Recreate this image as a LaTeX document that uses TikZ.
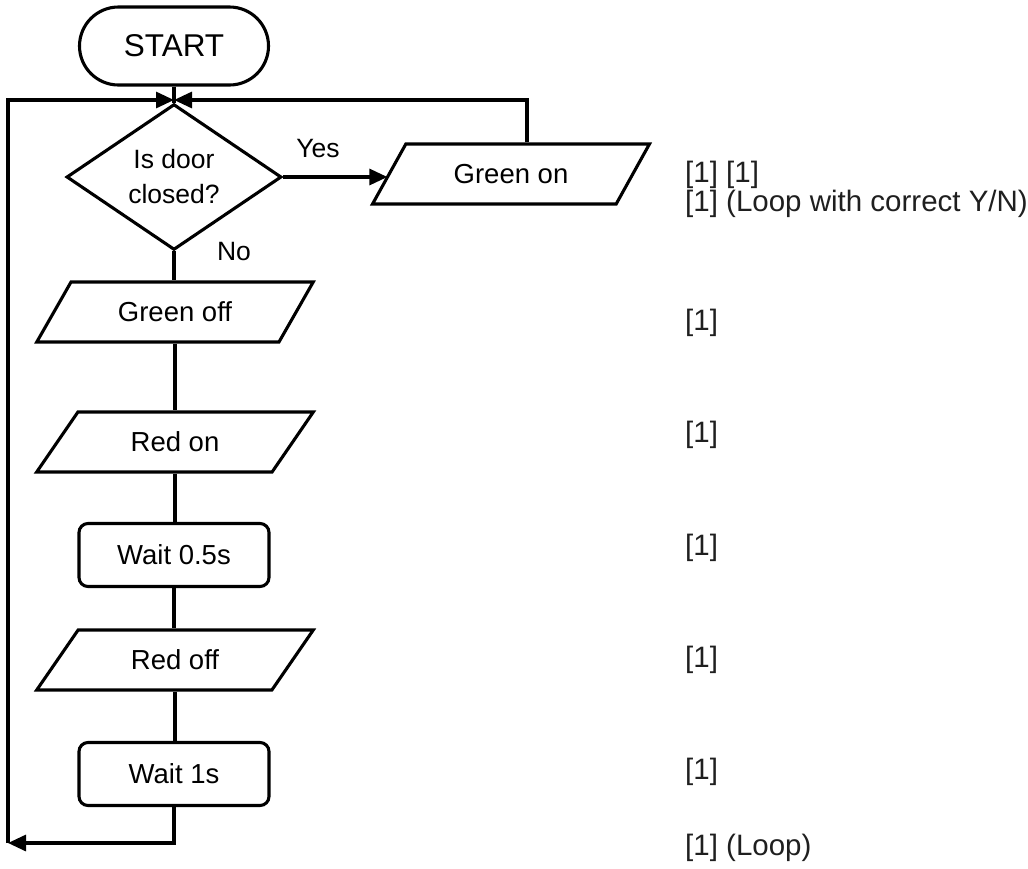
\documentclass[tikz,border=0pt]{standalone}
\usepackage{fontspec}
\setmainfont{Liberation Sans}
\usetikzlibrary{shapes.geometric,arrows.meta}
\begin{document}
\begin{tikzpicture}[x=1pt,y=-1pt,
  ln/.style={line width=3.1pt},
  arr/.style={ln,-{Triangle[length=18pt,width=16pt]}},
  base/.style={draw,ln,inner sep=0pt,align=center,font=\fontsize{27.5}{35}\selectfont},
  io/.style={base,trapezium,trapezium left angle=47,trapezium right angle=133,trapezium stretches=true,minimum width=277pt,minimum height=60pt},
  proc/.style={base,rectangle,rounded corners=9pt,minimum width=190pt,minimum height=63pt},
  term/.style={base,rectangle,rounded corners=39pt,minimum width=189pt,minimum height=78pt,font=\fontsize{31.5}{36}\selectfont},
  dec/.style={base,diamond,minimum width=215pt,minimum height=130pt,font=\fontsize{26.5}{35}\selectfont},
  lbl/.style={inner sep=0pt,font=\fontsize{26.5}{30}\selectfont},
  mk/.style={inner sep=0pt,anchor=west,align=left,text=black!88,font=\fontsize{29.5}{29}\selectfont}
]
\useasboundingbox (0,0) rectangle (1028,868);
\node[term] (start) at (174,46) {START};
\coordinate (J) at (174,100);
\node[dec] (dec) at (174,177) {Is door\\closed?};
\node[io] (gon) at (511,174) {Green on};
\node[io] (goff) at (175,312) {Green off};
\node[io] (ron) at (175,442) {Red on};
\node[proc] (w05) at (174,555) {Wait 0.5s};
\node[io] (roff) at (175,660) {Red off};
\node[proc] (w1) at (174,774) {Wait 1s};
\coordinate (BL) at (8,843);

\draw[ln] (start.south) -- (dec.north);
\draw[ln] (dec.south) -- (dec.south |- goff.north);
\draw[ln] (goff.south) -- (goff.south |- ron.north);
\draw[ln] (ron.south) -- (ron.south |- w05.north);
\draw[ln] (w05.south) -- (w05.south |- roff.north);
\draw[ln] (roff.south) -- (roff.south |- w1.north);
\draw[arr] (dec.east) -- (dec.east -| gon.west);
\draw[arr] ([xshift=16pt]gon.north) |- (J);
\draw[arr] (w1.south) |- (BL);
\draw[arr] (BL) |- (J);

\node[lbl] (yes) at (318,149) {Yes};
\node[lbl] (no) at (234,252) {No};

\node[mk] (m1) at (685,175) {[1] [1]};
\node[mk] (m2) at (685,204) {[1] (Loop with correct Y/N)};
\node[mk] (m3) at (685,323) {[1]};
\node[mk] (m4) at (685,435) {[1]};
\node[mk] (m5) at (685,548) {[1]};
\node[mk] (m6) at (685,660) {[1]};
\node[mk] (m7) at (685,772) {[1]};
\node[mk] (m8) at (685,848) {[1] (Loop)};
\end{tikzpicture}
\end{document}
